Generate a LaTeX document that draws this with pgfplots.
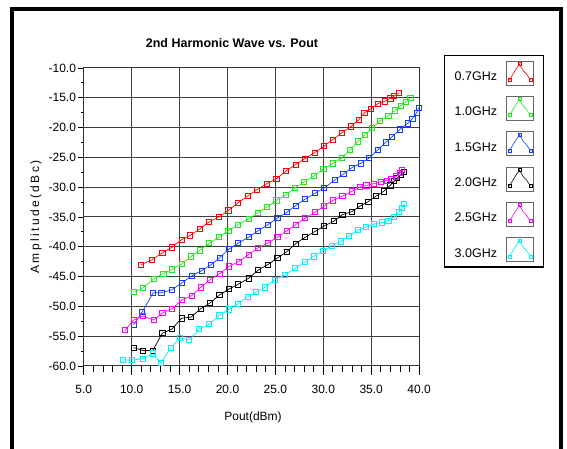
\documentclass[border=0pt]{standalone}
\usepackage{pgfplots}
\pgfplotsset{compat=1.18}
\usepackage{fontspec}
\setmainfont{Liberation Sans}
\newfontfamily\ylabfont[LetterSpace=20]{Liberation Sans}
\definecolor{cred}{RGB}{255,0,0}
\definecolor{cgreen}{RGB}{30,235,30}
\definecolor{cblue}{RGB}{20,60,255}
\definecolor{cmag}{RGB}{255,0,255}
\definecolor{ccyan}{RGB}{0,240,255}
\begin{document}
\begin{tikzpicture}
\useasboundingbox (0pt,0pt) rectangle (567pt,449pt);
\draw[line width=4pt] (11.5pt,-20pt) -- (11.5pt,440pt) -- (560.5pt,440pt) -- (560.5pt,-20pt);
\node[font=\bfseries\fontsize{12.5}{14}\selectfont] at (232pt,405.5pt) {2nd Harmonic Wave vs. Pout};
\node[font=\fontsize{12}{14}\selectfont] at (253pt,32pt) {Pout(dBm)};
\node[font=\ylabfont\fontsize{12}{14}\selectfont, rotate=90] at (36pt,232pt) {Amplitude(dBc)};
\begin{axis}[
  at={(83.8pt,83pt)}, anchor=south west, scale only axis,
  width=335.3pt, height=298pt,
  xmin=5, xmax=40, ymin=-60, ymax=-10,
  xtick={5,10,...,40}, minor x tick num=4,
  ytick={-60,-55,...,-10}, minor y tick num=1,
  xtick pos=bottom, ytick pos=left,
  tick align=outside,
  xtick style={/pgfplots/major tick length=9pt, /pgfplots/minor tick length=6.5pt, black, line width=0.8pt},
  ytick style={/pgfplots/major tick length=6pt, /pgfplots/minor tick length=3pt, black, line width=0.8pt},
  xmajorgrids, ymajorgrids,
  major grid style={black!75, line width=1pt},
  axis line style={black!80, line width=1pt},
  tick label style={font=\fontsize{12}{13}\selectfont},
  xticklabel style={yshift=-11pt},
  /pgf/number format/assume math mode=true,
  /pgf/number format/.cd, fixed, fixed zerofill, precision=1, /pgfplots/.cd,
  every axis plot/.append style={line width=0.7pt, mark=square, mark size=2.6pt, mark options={solid, line width=0.8pt}},
  legend plot pos=right,
  legend image code/.code={
    \draw[black!60, line width=0.8pt, fill=white, solid] (0pt,-8pt) rectangle (27pt,16pt);
    \draw[#1, mark=none, line width=0.6pt] (3pt,-3pt) -- (9pt,7pt) -- (13pt,13pt) -- (17pt,6pt) -- (20pt,3pt) -- (24pt,-3pt);
    \draw[#1, only marks, mark size=1.5pt, line width=0.6pt] plot coordinates {(3pt,-3pt) (13pt,13pt) (24pt,-3pt)};
  },
  legend style={at={(axis description cs:1.0743,1.0436)}, anchor=north west,
    draw=black, line width=1.3pt, fill=white,
    inner xsep=10pt, inner ysep=5pt, row sep=10.5pt, column sep=9pt,
    nodes={inner sep=0pt}, font=\fontsize{12.5}{14}\selectfont},
  legend cell align=right,
]
\addplot[color=cred] coordinates {
(11,-43.0) (12.1,-42.2) (13.2,-41.0) (14.2,-40.1) (15.2,-38.8) (16.1,-38.1) (17.1,-37.0) (18.1,-35.8) (19.1,-35.0) (20.1,-33.9) (21.1,-32.6) (22.1,-31.5) (23.1,-30.4) (24.1,-29.4) (25.1,-28.6) (26.1,-27.3) (27.1,-26.2) (28.1,-25.2) (29.1,-24.2) (30.1,-23.1) (31.0,-22.0) (31.9,-20.9) (32.9,-19.8) (33.7,-18.7) (34.3,-17.5) (35.0,-16.8) (35.7,-16.0) (36.4,-15.6) (37.0,-15.1) (37.4,-14.7) (37.9,-14.2)};
\addlegendentry{0.7GHz}
\addplot[color=cgreen] coordinates {
(10.2,-47.6) (11.15,-46.9) (12.3,-45.4) (13.3,-44.5) (14.2,-43.8) (15.2,-42.9) (16.2,-41.6) (17.1,-40.6) (18.1,-39.4) (19.1,-38.4) (20.1,-37.3) (21.1,-36.3) (22.2,-35.3) (23.15,-34.3) (24.15,-33.3) (25.1,-32.2) (26.1,-31.3) (27.05,-30.1) (28.0,-29.1) (29.05,-28.1) (30.0,-26.9) (31.0,-26.0) (31.9,-25.1) (32.8,-23.7) (33.65,-22.3) (34.35,-21.2) (35.1,-20.1) (35.9,-18.9) (36.8,-18.0) (37.5,-17.1) (38.1,-16.3) (38.6,-15.7) (39.1,-15.0)};
\addlegendentry{1.0GHz}
\addplot[color=cblue] coordinates {
(10.2,-53.1) (11.1,-50.9) (12.25,-47.7) (13.1,-47.7) (14.2,-47.2) (15.2,-46.1) (16.25,-44.9) (17.3,-44.0) (18.3,-43.0) (19.2,-41.8) (20.15,-40.4) (21.1,-39.4) (22.2,-38.4) (23.2,-37.3) (24.2,-36.3) (25.2,-35.2) (26.2,-34.2) (27.1,-33.1) (28.1,-32.0) (29.15,-31.0) (30.1,-30.1) (31.2,-28.8) (32.1,-27.8) (33.0,-26.7) (33.9,-26.0) (34.8,-25.1) (35.7,-23.7) (36.5,-22.5) (37.2,-21.5) (38.0,-20.3) (38.8,-19.3) (39.3,-18.5) (39.75,-17.5) (39.95,-16.7)};
\addlegendentry{1.5GHz}
\addplot[color=black] coordinates {
(10.2,-56.9) (11.15,-57.4) (12.2,-57.4) (13.2,-54.5) (14.2,-53.8) (15.2,-52.0) (16.2,-51.8) (17.2,-50.4) (18.2,-49.4) (19.15,-48.1) (20.15,-47.1) (21.1,-46.3) (22.2,-45.3) (23.2,-43.9) (24.2,-43.0) (25.2,-41.9) (26.2,-40.8) (27.1,-39.5) (28.1,-38.4) (29.15,-37.4) (30.1,-36.5) (31.1,-35.7) (32.0,-34.6) (33.0,-34.1) (33.8,-33.2) (34.7,-32.4) (35.5,-31.5) (36.3,-30.7) (37.0,-29.7) (37.4,-29.0) (37.7,-28.5) (38.1,-27.9) (38.4,-27.5)};
\addlegendentry{2.0GHz}
\addplot[color=cmag] coordinates {
(9.3,-54.0) (10.2,-52.3) (11.15,-51.6) (12.3,-52.3) (13.2,-51.1) (14.2,-50.4) (15.25,-48.9) (16.25,-48.2) (17.2,-46.8) (18.2,-45.5) (19.2,-44.5) (20.15,-43.3) (21.15,-42.5) (22.2,-41.3) (23.15,-40.2) (24.2,-39.4) (25.2,-38.4) (26.2,-37.3) (27.1,-36.3) (28.1,-35.2) (29.15,-34.2) (30.05,-33.2) (31.0,-32.2) (32.0,-31.5) (33.0,-30.7) (33.8,-30.0) (34.5,-29.7) (35.3,-29.4) (36.0,-29.1) (36.6,-28.9) (37.1,-28.6) (37.6,-28.2) (38.0,-27.6) (38.2,-27.1)};
\addlegendentry{2.5GHz}
\addplot[color=ccyan] coordinates {
(9.1,-59.0) (10.05,-59.0) (11.15,-58.8) (12.2,-57.9) (13.05,-59.5) (14.1,-56.9) (15.05,-55.3) (16.0,-55.6) (17.05,-53.8) (18.1,-53.0) (19.15,-51.5) (20.15,-50.5) (21.05,-49.6) (22.1,-48.4) (23.0,-47.6) (23.9,-46.8) (24.95,-45.5) (26.0,-44.7) (27.05,-43.6) (28.05,-42.6) (29.0,-41.6) (29.95,-40.7) (30.9,-39.8) (31.8,-39.1) (32.7,-38.2) (33.6,-37.2) (34.45,-36.7) (35.3,-36.2) (36.1,-35.9) (36.8,-35.6) (37.4,-35.0) (37.9,-34.2) (38.2,-33.5) (38.45,-32.8)};
\addlegendentry{3.0GHz}
\end{axis}
\end{tikzpicture}
\end{document}
